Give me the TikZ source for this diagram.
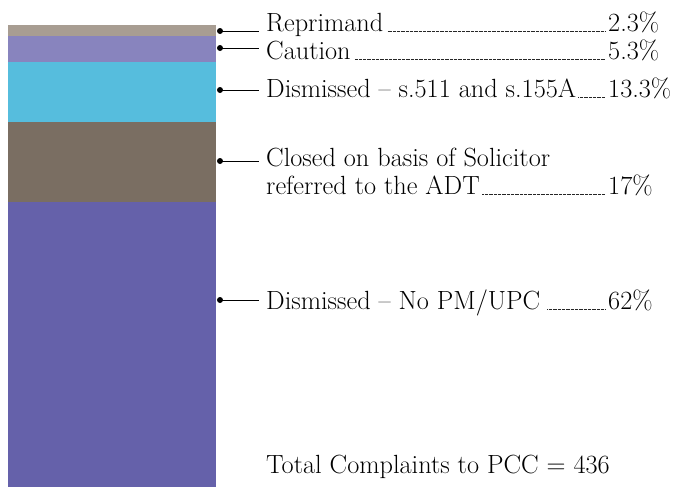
\documentclass[tikz,border=0pt]{standalone}
\usepackage{fontspec}
\definecolor{segA}{HTML}{A89D92}
\definecolor{segB}{HTML}{8884BE}
\definecolor{segC}{HTML}{56BDDD}
\definecolor{segD}{HTML}{7A6E62}
\definecolor{segE}{HTML}{6561AA}
\begin{document}
\begin{tikzpicture}[x=1pt,y=-1pt,
  lbl/.style={anchor=base west, inner sep=0pt, font=\fontsize{26.3}{30}\selectfont},
  pct/.style={anchor=base west, inner sep=0pt, font=\fontsize{26.3}{30}\selectfont},
  leader/.style={line width=0.55pt, dash pattern=on 0.55pt off 0.75pt, black!85},
  pin/.style={line width=0.9pt},
  dotc/.style={circle, fill=black, inner sep=0pt, minimum size=6pt}]
\useasboundingbox (0,0) rectangle (681,488);
% bar segments
\fill[segA] (8,25) rectangle (216,36);
\fill[segB] (8,36) rectangle (216,62);
\fill[segC] (8,62) rectangle (216,122);
\fill[segD] (8,122) rectangle (216,202);
\fill[segE] (8,202) rectangle (216,487);
% Reprimand
\node[dotc] (d1) at (220,31) {};
\coordinate (e1) at (259,31);
\draw[pin] (d1.center) -- (e1);
\node[lbl] (t1) at (266,31) {Reprimand};
\node[pct] (p1) at (608,31) {2.3\%};
\draw[leader] ([xshift=4pt]t1.base east) -- ([xshift=-3pt]p1.base west);
% Caution
\node[dotc] (d2) at (220,48) {};
\coordinate (e2) at (259,48);
\draw[pin] (d2.center) -- (e2);
\node[lbl] (t2) at (266,59) {Caution};
\node[pct] (p2) at (608,59) {5.3\%};
\draw[leader] ([xshift=4pt]t2.base east) -- ([xshift=-3pt]p2.base west);
% Dismissed s.511
\node[dotc] (d3) at (220,90) {};
\coordinate (e3) at (259,90);
\draw[pin] (d3.center) -- (e3);
\node[lbl] (t3) at (266,97) {Dismissed -- s.511 and s.155A};
\node[pct] (p3) at (608,97) {13.3\%};
\draw[leader] ([xshift=2pt]t3.base east) -- ([xshift=-3pt]p3.base west);
% Closed
\node[dotc] (d4) at (220,161) {};
\coordinate (e4) at (259,161);
\draw[pin] (d4.center) -- (e4);
\node[lbl] (t4) at (266,166) {Closed on basis of Solicitor};
\node[lbl] (t4b) at (266,194) {referred to the ADT};
\node[pct] (p4) at (608,194) {17\%};
\draw[leader] ([xshift=2pt]t4b.base east) -- ([xshift=-3pt]p4.base west);
% Dismissed No PM
\node[dotc] (d5) at (220,300) {};
\coordinate (e5) at (259,300);
\draw[pin] (d5.center) -- (e5);
\node[lbl] (t5) at (266,309) {Dismissed -- No PM/UPC};
\node[pct] (p5) at (608,309) {62\%};
\draw[leader] ([xshift=7pt]t5.base east) -- ([xshift=-3pt]p5.base west);
% Total
\node[lbl] (tot) at (266,473) {Total Complaints to PCC = 436};
\end{tikzpicture}
\end{document}
